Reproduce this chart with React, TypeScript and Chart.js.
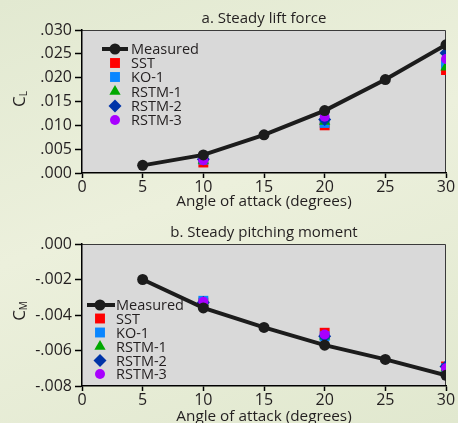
import React, { useEffect, useRef } from "react";
import { Chart, registerables } from "chart.js";
Chart.register(...registerables);

// ---- data ----
const angles = [5, 10, 15, 20, 25, 30];
const modelAngles = [10, 20, 30];
const xTickValues = [0, 5, 10, 15, 20, 25, 30];

const liftMeasured = [0.0016, 0.0038, 0.008, 0.0131, 0.0196, 0.0269];
const liftSST = [0.0022, 0.01, 0.0216];
const liftKO1 = [0.0028, 0.0105, 0.0228];
const liftRSTM1 = [0.0026, 0.0108, 0.0222];
const liftRSTM2 = [0.0029, 0.0112, 0.0252];
const liftRSTM3 = [0.0027, 0.0118, 0.0239];

const momentMeasured = [-0.002, -0.0036, -0.0047, -0.0057, -0.0065, -0.0074];
const momentSST = [-0.0033, -0.005, -0.0069];
const momentKO1 = [-0.0032, -0.0052, -0.007];
const momentRSTM1 = [-0.0033, -0.0052, -0.007];
const momentRSTM2 = [-0.0033, -0.0052, -0.0069];
const momentRSTM3 = [-0.00325, -0.0051, -0.007];

const seriesNames = ["Measured", "SST", "KO-1", "RSTM-1", "RSTM-2", "RSTM-3"];
const seriesColors = ["#1c1c1c", "#ff0000", "#0a86ff", "#00a800", "#0034a8", "#a800ff"];
const seriesShapes = ["circle", "rect", "rect", "triangle", "rectRot", "circle"];
const seriesRadius = [5.5, 7, 7, 6.5, 6.5, 5];

const FONT = "'Open Sans', 'DejaVu Sans', sans-serif";
const TEXT = "#231f20";

function drawShape(ctx: CanvasRenderingContext2D, shape: string, x: number, y: number, r: number, color: string) {
  ctx.save();
  ctx.fillStyle = color;
  ctx.beginPath();
  if (shape === "circle") {
    ctx.arc(x, y, r, 0, Math.PI * 2);
  } else if (shape === "rect") {
    const s = r * Math.SQRT1_2;
    ctx.rect(x - s, y - s, 2 * s, 2 * s);
  } else if (shape === "triangle") {
    ctx.moveTo(x, y - r);
    ctx.lineTo(x + r * 0.866, y + r * 0.5);
    ctx.lineTo(x - r * 0.866, y + r * 0.5);
    ctx.closePath();
  } else if (shape === "rectRot") {
    ctx.moveTo(x, y - r);
    ctx.lineTo(x + r, y);
    ctx.lineTo(x, y + r);
    ctx.lineTo(x - r, y);
    ctx.closePath();
  }
  ctx.fill();
  ctx.restore();
}

function fmt(v: number) {
  const s = Math.abs(v).toFixed(3).replace(/^0/, "");
  return (v < -1e-9 ? "-" : "") + s;
}

type Cfg = {
  height: number;
  areaTop: number;
  areaBottom: number;
  yMin: number;
  yMax: number;
  yStep: number;
  title: string;
  titleY: number;
  yMain: string;
  ySub: string;
  yLabelY: number;
  measured: number[];
  models: number[][];
  legend: { lineX0: number; lineX1: number; markerX: number; textX: number; ys: number[] };
  xTitlePad: number;
};

function buildChart(canvas: HTMLCanvasElement, c: Cfg) {
  const datasets: any[] = [];
  datasets.push({
    label: seriesNames[0],
    data: angles.map((a, i) => ({ x: a, y: c.measured[i] })),
    borderColor: seriesColors[0],
    backgroundColor: seriesColors[0],
    borderWidth: 4,
    pointRadius: seriesRadius[0],
    pointStyle: "circle",
    pointBorderWidth: 0,
    showLine: true,
    order: 0,
  });
  for (let k = 1; k < seriesNames.length; k++) {
    datasets.push({
      label: seriesNames[k],
      data: modelAngles.map((a, i) => ({ x: a, y: c.models[k - 1][i] })),
      borderColor: seriesColors[k],
      backgroundColor: seriesColors[k],
      pointRadius: seriesRadius[k],
      pointStyle: seriesShapes[k],
      pointBorderWidth: 0,
      showLine: false,
      order: 6 - k,
    });
  }

  const deco = {
    id: "deco",
    beforeDraw(chart: any) {
      const { ctx, chartArea: a } = chart;
      ctx.save();
      ctx.fillStyle = "#d9d9d9";
      ctx.fillRect(a.left, a.top, a.right - a.left, a.bottom - a.top);
      ctx.strokeStyle = "#3a3a3a";
      ctx.lineWidth = 1;
      ctx.beginPath();
      ctx.moveTo(a.left, a.top + 0.5);
      ctx.lineTo(a.right - 0.5, a.top + 0.5);
      ctx.lineTo(a.right - 0.5, a.bottom);
      ctx.stroke();
      ctx.restore();
    },
    afterDraw(chart: any) {
      const { ctx, chartArea: a } = chart;
      ctx.save();
      // title
      ctx.fillStyle = TEXT;
      ctx.font = `15px ${FONT}`;
      ctx.textAlign = "center";
      ctx.textBaseline = "middle";
      ctx.fillText(c.title, (a.left + a.right) / 2, c.titleY);
      // y title with subscript
      ctx.save();
      ctx.translate(20, c.yLabelY);
      ctx.rotate(-Math.PI / 2);
      ctx.font = `17px ${FONT}`;
      const wC = ctx.measureText(c.yMain).width;
      ctx.font = `10px ${FONT}`;
      const wS = ctx.measureText(c.ySub).width;
      const start = -(wC + wS) / 2;
      ctx.textAlign = "left";
      ctx.font = `17px ${FONT}`;
      ctx.fillText(c.yMain, start, 0);
      ctx.font = `10px ${FONT}`;
      ctx.fillText(c.ySub, start + wC, 4);
      ctx.restore();
      // legend
      const L = c.legend;
      ctx.strokeStyle = seriesColors[0];
      ctx.lineWidth = 4;
      ctx.beginPath();
      ctx.moveTo(L.lineX0, L.ys[0]);
      ctx.lineTo(L.lineX1, L.ys[0]);
      ctx.stroke();
      for (let k = 0; k < seriesNames.length; k++) {
        drawShape(ctx, seriesShapes[k], L.markerX, L.ys[k], seriesRadius[k], seriesColors[k]);
        ctx.fillStyle = TEXT;
        ctx.font = `14.5px ${FONT}`;
        ctx.textAlign = "left";
        ctx.textBaseline = "middle";
        ctx.fillText(seriesNames[k], L.textX, L.ys[k] + 1);
      }
      ctx.restore();
    },
  };

  const xHeight = c.height - c.areaBottom;
  return new Chart(canvas, {
    type: "scatter",
    data: { datasets },
    plugins: [deco],
    options: {
      animation: false,
      responsive: false,
      maintainAspectRatio: false,
      layout: { padding: { top: c.areaTop, right: 12, left: 0, bottom: 0 } },
      plugins: { legend: { display: false }, tooltip: { enabled: false }, title: { display: false } },
      scales: {
        x: {
          type: "linear",
          min: 0,
          max: 30,
          afterBuildTicks: (s: any) => {
            s.ticks = xTickValues.map((v) => ({ value: v }));
          },
          afterFit: (s: any) => {
            s.height = xHeight;
          },
          ticks: { color: TEXT, font: { family: FONT, size: 16 }, padding: 0, maxRotation: 0, autoSkip: false, callback: (v: any) => String(v) },
          grid: { drawOnChartArea: false, drawTicks: true, tickLength: 5, color: "#000", tickWidth: 1.5 },
          border: { color: "#000", width: 1.5 },
          title: { display: true, text: "Angle of attack (degrees)", color: TEXT, font: { family: FONT, size: 15.3 }, padding: { top: 0, bottom: c.xTitlePad } },
        },
        y: {
          type: "linear",
          min: c.yMin,
          max: c.yMax,
          afterFit: (s: any) => {
            s.width = 82;
          },
          ticks: { stepSize: c.yStep, color: TEXT, font: { family: FONT, size: 16 }, padding: 3, callback: (v: any) => fmt(Number(v)) },
          grid: { drawOnChartArea: false, drawTicks: true, tickLength: 7, color: "#000", tickWidth: 1.5 },
          border: { color: "#000", width: 1.5 },
        },
      },
    },
  } as any);
}

const liftCfg: Cfg = {
  height: 211,
  areaTop: 30,
  areaBottom: 173,
  yMin: 0,
  yMax: 0.03,
  yStep: 0.005,
  title: "a. Steady lift force",
  titleY: 18.5,
  yMain: "C",
  ySub: "L",
  yLabelY: 99,
  measured: liftMeasured,
  models: [liftSST, liftKO1, liftRSTM1, liftRSTM2, liftRSTM3],
  legend: { lineX0: 102, lineX1: 128, markerX: 115, textX: 131, ys: [49, 63, 77, 91.5, 106, 120] },
  xTitlePad: 0,
};

const momentCfg: Cfg = {
  height: 216,
  areaTop: 33,
  areaBottom: 175,
  yMin: -0.008,
  yMax: 0,
  yStep: 0.002,
  title: "b. Steady pitching moment",
  titleY: 21.5,
  yMain: "C",
  ySub: "M",
  yLabelY: 100,
  measured: momentMeasured,
  models: [momentSST, momentKO1, momentRSTM1, momentRSTM2, momentRSTM3],
  legend: { lineX0: 87, lineX1: 115, markerX: 100, textX: 116, ys: [94, 107.5, 121.5, 135.5, 149.5, 163] },
  xTitlePad: 1,
};

export default function App() {
  const ref1 = useRef<HTMLCanvasElement>(null);
  const ref2 = useRef<HTMLCanvasElement>(null);
  useEffect(() => {
    const c1 = buildChart(ref1.current!, liftCfg);
    const c2 = buildChart(ref2.current!, momentCfg);
    return () => {
      c1.destroy();
      c2.destroy();
    };
  }, []);
  return (
    <div
      style={{
        position: "absolute",
        left: 0,
        top: 0,
        width: 458,
        height: 423,
        overflow: "hidden",
        background: "linear-gradient(160deg, #e2e9d1 0%, #ecf0dc 45%, #e1e8cf 100%)",
      }}
    >
      <canvas ref={ref1} width={458} height={211} style={{ position: "absolute", left: 0, top: 0, width: 458, height: 211 }} />
      <canvas ref={ref2} width={458} height={216} style={{ position: "absolute", left: 0, top: 211, width: 458, height: 216 }} />
    </div>
  );
}
